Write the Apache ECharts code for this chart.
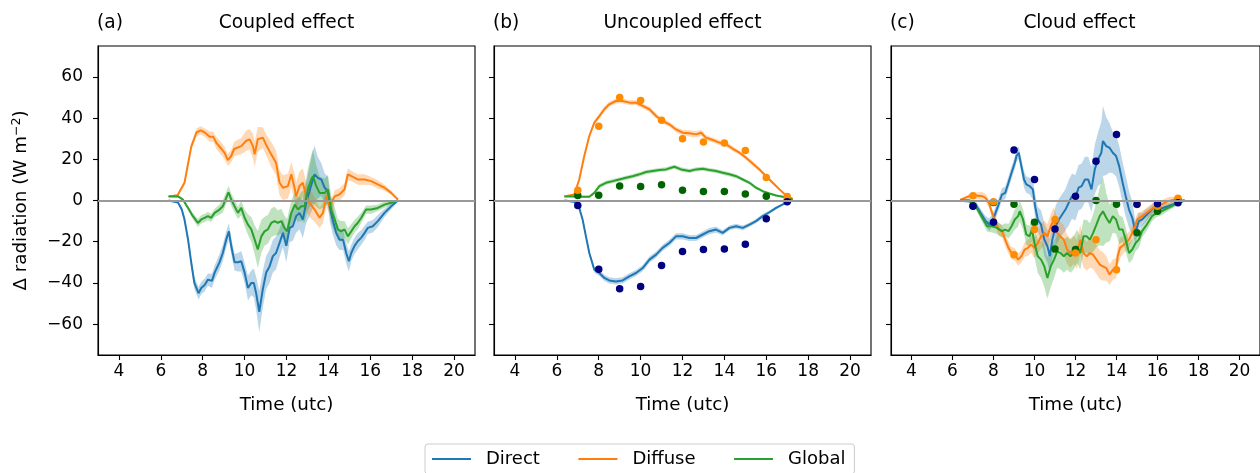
<!DOCTYPE html>
<html>
<head>
<meta charset="utf-8">
<script src="https://cdn.jsdelivr.net/npm/echarts@6/dist/echarts.min.js"></script>
<style>html,body{margin:0;padding:0;background:#fff}#c{width:1260px;height:473px}</style>
</head>
<body>
<div id="c"></div>
<script>
// ---------- DATA ([time, value, half-spread]) ----------
const panelTitles = ['Coupled effect', 'Uncoupled effect', 'Cloud effect'];
const panelTags = ['(a)', '(b)', '(c)'];
const seriesNames = ['Direct', 'Diffuse', 'Global'];
const xTicks = [4, 6, 8, 10, 12, 14, 16, 18, 20];
const yTicks = [-60, -40, -20, 0, 20, 40, 60];
const hours = [7, 8, 9, 10, 11, 12, 13, 14, 15, 16, 17];

const directA = [[6.37,0,0.3],[6.82,-1,0.5],[7.0,-4.4,1],[7.13,-9.2,1.5],[7.3,-19,2],[7.45,-30,2.5],[7.6,-40,3],[7.8,-45,3],[7.93,-42.5,3],[8.09,-41,3],[8.25,-38.4,3],[8.44,-39,3.5],[8.57,-35,3.5],[8.8,-30,4],[8.96,-25.5,4],[9.12,-19,4],[9.25,-15,4],[9.36,-22,4],[9.52,-30,4],[9.68,-30,4.5],[9.84,-29.5,5],[10.0,-35,5],[10.16,-42.5,6],[10.32,-40,6],[10.44,-40,7],[10.55,-45,8],[10.7,-54,10],[10.87,-43,9],[11.03,-35,8],[11.19,-32,8],[11.35,-27,8],[11.5,-25.5,8],[11.67,-20.6,7],[11.83,-15.7,7],[11.99,-22,8],[12.15,-13.3,7],[12.3,-12.5,7],[12.46,-7.6,8],[12.62,-6,8],[12.78,-9.2,9],[12.94,-1.1,10],[13.1,4.5,12],[13.26,10.2,14],[13.34,12.7,14],[13.5,11,10],[13.66,10.2,8],[13.82,6.2,7],[13.98,4.5,7],[14.06,-2.8,7],[14.2,-9.2,7],[14.37,-15.7,6],[14.53,-19,5],[14.7,-19,5],[14.85,-25.5,5],[14.98,-29.5,5],[15.09,-25.5,4],[15.25,-22,4],[15.4,-19.8,4],[15.57,-18,3.5],[15.73,-15.7,3.5],[15.88,-13.3,3],[16.12,-12.5,3],[16.36,-10,3],[16.68,-6,2],[17.0,-2.8,1.5],[17.32,0,0.5]];
const diffuseA = [[6.37,2,0.3],[6.8,2.5,0.5],[7.13,8.6,1],[7.45,26,1.5],[7.7,33,2],[7.9,34,2],[8.1,33,2],[8.33,31,2.5],[8.5,31,2.5],[8.65,28,3],[8.9,25,3],[9.05,23,3],[9.2,19.6,3],[9.36,21.6,3],[9.5,25,3.5],[9.84,26.4,4],[10.08,29,5],[10.24,29.7,5],[10.4,26.4,6],[10.48,22.4,6],[10.63,29.7,6],[10.87,30.5,5],[11.03,27,5],[11.27,22.4,6],[11.5,18.3,6],[11.67,8.6,6],[11.83,6.2,6],[12.07,7,6],[12.23,12.7,6],[12.4,5.4,7],[12.46,2,7],[12.62,7,7],[12.78,8.6,7],[12.94,2,7],[13.1,-1.1,7],[13.34,-4.4,6],[13.58,-8.4,5],[13.74,-6,5],[13.9,2,5],[14.06,-2.8,4],[14.13,-3.6,4],[14.3,2,3],[14.53,2.9,3],[14.77,5.4,3],[14.93,12.7,3],[15.1,11.8,2.5],[15.4,10.2,2.5],[15.73,10.2,2.5],[16.04,9.4,2],[16.36,7.8,2],[16.68,6.2,1.5],[17.0,3.7,1],[17.32,0.5,0.5]];
const globalA = [[6.37,2,0.3],[6.82,2,0.5],[7.05,0.5,0.8],[7.3,-3.6,1],[7.53,-7.6,1.5],[7.77,-10.9,2],[7.93,-9.2,2],[8.09,-8.4,2],[8.25,-7.6,2],[8.4,-8.4,2],[8.57,-6,2],[8.8,-4.4,2.5],[8.96,-2.8,3],[9.12,1.3,3],[9.23,4,3],[9.36,0.5,3],[9.52,-2.8,3],[9.68,-6,3],[9.84,-3.6,3.5],[10.0,-8.4,4],[10.16,-11.7,5],[10.32,-14,6],[10.48,-19,7],[10.63,-23.8,9],[10.8,-17.4,8],[10.95,-15,7],[11.11,-14,7],[11.27,-10.9,7],[11.43,-10,7],[11.59,-10.9,6],[11.75,-10,6],[11.9,-13.3,6],[12.03,-15,6],[12.23,-6,6],[12.4,-2,6],[12.55,-4.4,6],[12.7,-2.8,7],[12.86,-2.8,8],[13.02,5.4,10],[13.18,10.2,12],[13.26,11.8,13],[13.42,7,10],[13.58,3.7,8],[13.82,3.7,7],[13.98,5.4,7],[14.13,-4.4,7],[14.3,-9.2,6],[14.45,-14,5],[14.61,-15,5],[14.77,-14,4],[14.93,-17.4,4],[15.09,-15,3.5],[15.25,-12.5,3],[15.4,-10.9,3],[15.57,-8.4,2.5],[15.8,-4.4,2],[16.04,-4.4,2],[16.36,-3.6,1.5],[16.68,-2,1.5],[17.0,-1.1,1],[17.32,0,0.5]];

const directB = [[6.36,0,0.2],[6.83,-0.6,0.5],[7.07,-3.6,0.8],[7.23,-9.2,1],[7.39,-17.4,1.2],[7.55,-25.5,1.5],[7.79,-33.6,1.5],[8.03,-35.2,1.5],[8.27,-37.6,1.5],[8.5,-38.8,1.5],[8.82,-39.3,1.5],[9.14,-38.8,1.5],[9.46,-36.8,1.5],[9.78,-35.2,1.5],[10.1,-32.8,1.5],[10.42,-28.7,1.5],[10.74,-26.3,1.5],[11.05,-23,1.5],[11.37,-20.6,1.5],[11.69,-17.4,1.5],[12.01,-17.4,1.5],[12.33,-18.2,1.5],[12.65,-18.2,1.5],[12.97,-16.5,1.5],[13.28,-14.9,1.5],[13.6,-14.1,1.5],[13.92,-15.7,1.2],[14.24,-13.3,1.2],[14.56,-12.5,1.2],[14.88,-13.3,1.2],[15.2,-11.7,1],[15.51,-10,1],[15.83,-7.6,1],[16.15,-5.7,0.8],[16.47,-3.6,0.8],[16.79,-1.9,0.5],[17.26,0,0.3]];
const diffuseB = [[6.36,2,0.2],[6.83,2.9,0.5],[7.07,10.2,0.8],[7.31,21.6,1],[7.55,31.3,1],[7.79,37.8,1],[8.03,41,1.2],[8.27,44.3,1.2],[8.5,46.7,1.2],[8.82,48.3,1.2],[9.14,48.3,1.2],[9.46,47.5,1.2],[9.78,47.5,1.2],[10.1,45.9,1.2],[10.42,44.3,1.2],[10.74,41,1.2],[11.05,38.6,1.2],[11.37,37,1.2],[11.69,34.5,1.2],[12.01,32.9,1.5],[12.33,32.6,1.5],[12.65,32.1,1.5],[12.89,32.9,1.5],[13.12,30.5,1.2],[13.44,29.4,1.2],[13.76,28.1,1.2],[14.08,27.3,1.2],[14.4,25.1,1.2],[14.72,23.2,1],[15.03,20.8,1],[15.35,18,1],[15.67,15.1,1],[15.99,11.8,0.8],[16.31,8.6,0.8],[16.63,5.4,0.5],[16.95,2.4,0.5],[17.26,0.8,0.3]];
const globalB = [[6.36,2,0.2],[6.75,2,0.4],[7.15,1.8,0.5],[7.55,1.8,0.6],[7.79,3.7,0.8],[8.03,7,1],[8.35,8.6,1],[8.67,9.4,1],[8.98,10.2,1],[9.3,11,1],[9.62,11.8,1],[9.94,12.7,1],[10.26,13.8,1],[10.58,14.3,1],[10.9,14.8,1],[11.21,15.1,1],[11.61,16.4,1],[11.93,15.1,1],[12.33,14.3,1],[12.65,15.1,1],[12.97,15.4,1],[13.28,14.8,1],[13.6,14.3,1],[13.92,13.5,1],[14.24,12.7,1],[14.56,11.8,1],[14.88,10.2,0.8],[15.2,8.6,0.8],[15.51,6.2,0.8],[15.83,4.5,0.6],[16.15,3.4,0.5],[16.47,2.4,0.5],[16.79,1.8,0.4],[17.26,0.5,0.2]];

const directC = [[6.37,0,0.5],[6.82,-0.3,1],[7.13,-1.9,1.5],[7.37,-6,2],[7.61,-10,2.5],[7.8,-11.7,3],[8.01,-8.4,3],[8.25,-1.9,3],[8.41,2.9,3],[8.57,3.7,3],[8.73,8.6,3],[8.88,13.5,3],[9.04,18.3,3],[9.12,21.6,3],[9.23,23.2,3],[9.36,16.7,3.5],[9.49,10.2,4],[9.6,7.8,4],[9.76,7,4],[9.92,5.4,5],[10.03,-2.8,6],[10.16,-9.2,6],[10.32,-11.7,7],[10.48,-19,8],[10.63,-22.2,8],[10.75,-27,8],[10.87,-19,9],[11.03,-12.5,10],[11.19,-9.2,10],[11.35,-6.8,10],[11.51,-4.4,10],[11.67,-1.1,11],[11.83,2.1,11],[11.99,1.3,11],[12.15,6.2,11],[12.3,7,11],[12.46,10.2,11],[12.62,10.2,11],[12.78,5.4,11],[12.94,15.1,12],[13.1,20,13],[13.26,23.2,15],[13.34,28.9,17],[13.5,26.4,14],[13.66,25.6,12],[13.82,23.2,10],[13.98,21.6,10],[14.13,16.7,10],[14.3,8.6,10],[14.45,2.1,10],[14.61,-4.4,9],[14.77,-8.4,8],[14.93,-15.7,5],[15.09,-10,4],[15.25,-9.2,3],[15.4,-7.6,3],[15.57,-6,2.5],[15.8,-3.6,2.5],[16.04,-4.4,2],[16.28,-3.6,2],[16.52,-2.8,1.5],[16.76,-1.9,1.5],[17.0,-1.1,1],[17.32,0,0.5]];
const diffuseC = [[6.37,0.3,0.3],[6.82,2.1,1],[7.13,2.4,1.5],[7.45,2.1,2],[7.61,1.3,2],[7.77,-1.1,2],[7.93,-6,2],[8.09,-10,2.5],[8.25,-14.1,3],[8.41,-14.9,3],[8.57,-19,3],[8.73,-23,3],[8.88,-25.5,3],[9.04,-26.3,3],[9.2,-28.7,3],[9.36,-27.1,3],[9.52,-23.8,3.5],[9.68,-23,4],[9.84,-21.4,4],[10.0,-23,5],[10.16,-20.6,5],[10.32,-17.4,6],[10.48,-15.7,6],[10.63,-17.4,6],[10.79,-12.5,6],[10.95,-9.2,6],[11.11,-15.7,7],[11.27,-17.4,7],[11.43,-19,7],[11.59,-23.8,7],[11.75,-25.5,7],[11.91,-23.8,7],[12.07,-26.3,7],[12.23,-19,7],[12.39,-25.5,7],[12.55,-27.1,7],[12.7,-25.5,7],[12.86,-26.3,7],[13.02,-28.7,7],[13.18,-31.1,7],[13.34,-32,7],[13.5,-32.8,6],[13.66,-36,5],[13.82,-33.6,5],[13.98,-32.8,5],[14.06,-27.1,5],[14.17,-23,5],[14.37,-21.4,4],[14.61,-19,4],[14.85,-14.1,3],[15.01,-9.2,3],[15.25,-7.6,2.5],[15.57,-5.2,2.5],[15.89,-2.8,2],[16.2,-1.9,2],[16.52,-0.3,2],[16.84,0.5,1.5],[17.32,0,0.5]];
const globalC = [[6.37,0,0.3],[6.82,0,1],[7.13,-2.8,1.5],[7.45,-8.4,2],[7.69,-12.5,2.5],[7.93,-12.5,3],[8.17,-13.3,3],[8.41,-14.9,3],[8.57,-14.1,3],[8.73,-14.9,3.5],[8.88,-12.5,4],[9.04,-9.2,5],[9.2,-7.6,5],[9.28,-5.2,5],[9.44,-9.2,5],[9.6,-16.5,5],[9.76,-17.4,5],[9.87,-14.1,6],[10.0,-20.6,7],[10.16,-27.1,8],[10.32,-28.7,9],[10.48,-32,10],[10.63,-37.6,10],[10.79,-32,10],[10.95,-28.7,9],[11.11,-24.7,8],[11.27,-25.5,8],[11.43,-27.1,8],[11.59,-25.5,8],[11.75,-27.1,8],[11.91,-25.5,8],[12.07,-22.2,8],[12.23,-25.5,8],[12.39,-17.4,8],[12.55,-17.4,8],[12.7,-19,8],[12.86,-15.7,9],[13.02,-11.7,11],[13.18,-7.6,14],[13.34,-5.2,17],[13.5,-8.4,12],[13.66,-10.9,9],[13.82,-7.6,8],[13.98,-9.2,7],[14.13,-14.1,7],[14.3,-14.1,6],[14.45,-19,6],[14.61,-25.5,5],[14.77,-23.8,5],[14.93,-20.6,4],[15.09,-19,4],[15.25,-14.9,3],[15.48,-11.7,3],[15.73,-7.6,2.5],[15.96,-6,2],[16.2,-5.2,2],[16.52,-3.6,1.5],[16.84,-1.9,1],[17.32,0,0.5]];

// hourly point values
const directDotsB = [-2.4,-33.4,-42.8,-41.7,-31.5,-24.8,-23.8,-23.5,-21.2,-8.9,-0.6];
const diffuseDotsB = [5,36,50,48.5,39,30,28.4,27.9,24.3,11.2,2];
const globalDotsB = [2.4,2.6,7,6.8,7.6,5,4.4,4.4,3.1,2.1,0];
const directDotsC = [-2.8,-10.5,24.5,10.2,-13.8,2.1,19,32,-1.8,-1.6,-1.1];
const diffuseDotsC = [2.3,-0.6,-26.3,-14.1,-9.2,-25.5,-19,-33.6,-2,-2.8,1.1];
const globalDotsC = [-2.5,-1,-1.8,-10.5,-23.5,-23.8,0,-1.8,-15.7,-5.2,0.3];

// ---------- STYLE ----------
const FONT = 'DejaVu Sans';
const FS_TICK = 17;
const FS_LAB = 18.3;
const FS_TITLE = 18.6;
const FS_LEG = 18;
const lineColors = ['#1f77b4', '#ff7f0e', '#2ca02c'];
const dotColors = ['#000080', '#ff8c00', '#006400'];
const panelLines = [[directA, diffuseA, globalA], [directB, diffuseB, globalB], [directC, diffuseC, globalC]];
const panelDots = [null, [directDotsB, diffuseDotsB, globalDotsB], [directDotsC, diffuseDotsC, globalDotsC]];
const gridPos = [{left: 98, width: 377}, {left: 494, width: 377}, {left: 891, width: 377}];
const GTOP = 46, GH = 309;

const fmtY = v => (v < 0 ? '\u2212' + (-v) : String(v));

const grids = [], xAxes = [], yAxes = [], series = [], graphics = [];
gridPos.forEach((g, p) => {
  grids.push({left: g.left, top: GTOP, width: g.width, height: GH, show: true,
    borderColor: '#000', borderWidth: 1.1, backgroundColor: 'transparent'});
  xAxes.push({type: 'value', gridIndex: p, min: 3, max: 21,
    name: 'Time (utc)', nameLocation: 'middle', nameGap: 41,
    nameTextStyle: {fontFamily: FONT, fontSize: FS_LAB, color: '#000'},
    axisLine: {show: true, onZero: false, lineStyle: {color: '#000', width: 1.1}},
    axisTick: {show: true, inside: false, length: 5, customValues: xTicks, lineStyle: {color: '#000', width: 1.1}},
    axisLabel: {show: true, customValues: xTicks, margin: 8, fontFamily: FONT, fontSize: FS_TICK, color: '#000'},
    splitLine: {show: false}});
  yAxes.push({type: 'value', gridIndex: p, min: -75, max: 75,
    name: p === 0 ? '\u0394 radiation (W m{sup|\u22122})' : '',
    nameLocation: 'middle', nameGap: 66, nameRotate: 90,
    nameTextStyle: {fontFamily: FONT, fontSize: FS_LAB, color: '#000',
      rich: {sup: {fontFamily: FONT, fontSize: 12.5, color: '#000', verticalAlign: 'top', padding: [0, 0, 9, 0]}}},
    axisLine: {show: true, onZero: false, lineStyle: {color: '#000', width: 1.1}},
    axisTick: {show: true, inside: false, length: 5, customValues: yTicks, lineStyle: {color: '#000', width: 1.1}},
    axisLabel: {show: p === 0, customValues: yTicks, margin: 15, formatter: fmtY, fontFamily: FONT, fontSize: FS_TICK, color: '#000'},
    splitLine: {show: false}});

  // bands
  panelLines[p].forEach((arr, k) => {
    series.push({type: 'custom', xAxisIndex: p, yAxisIndex: p, silent: true, z: 1,
      data: [[arr[0][0], arr[0][1]]],
      renderItem: (params, api) => {
        const up = arr.map(d => api.coord([d[0], d[1] + d[2]]));
        const lo = arr.slice().reverse().map(d => api.coord([d[0], d[1] - d[2]]));
        return {type: 'polygon', shape: {points: up.concat(lo)}, style: {fill: lineColors[k], opacity: 0.3}};
      }});
  });
  // zero line
  series.push({type: 'line', xAxisIndex: p, yAxisIndex: p, data: [], silent: true, z: 2,
    markLine: {silent: true, symbol: 'none', label: {show: false}, animation: false,
      lineStyle: {color: '#999999', width: 2, type: 'solid'}, data: [{yAxis: 0}]}});
  // lines
  panelLines[p].forEach((arr, k) => {
    series.push({type: 'line', name: seriesNames[k], xAxisIndex: p, yAxisIndex: p, z: 3,
      data: arr.map(d => [d[0], d[1]]), showSymbol: false, symbol: 'none',
      lineStyle: {color: lineColors[k], width: 2}, itemStyle: {color: lineColors[k]}});
  });
  // dots (global, diffuse, direct on top)
  if (panelDots[p]) {
    [2, 1, 0].forEach(k => {
      series.push({type: 'scatter', name: seriesNames[k] + ' obs', xAxisIndex: p, yAxisIndex: p, z: 4,
        symbolSize: 7.5, itemStyle: {color: dotColors[k], opacity: 1},
        data: hours.map((h, i) => [h, panelDots[p][k][i]])});
    });
  }
  // titles
  graphics.push({type: 'text', x: g.left - 1, y: 23,
    style: {text: panelTags[p], font: FS_TITLE + 'px "' + FONT + '"', fill: '#000', textAlign: 'left', textVerticalAlign: 'middle'}});
  graphics.push({type: 'text', x: g.left + g.width / 2, y: 23,
    style: {text: panelTitles[p], font: FS_TITLE + 'px "' + FONT + '"', fill: '#000', textAlign: 'center', textVerticalAlign: 'middle'}});
});

const chart = echarts.init(document.getElementById('c'), null, {renderer: 'canvas'});
chart.setOption({
  animation: false,
  backgroundColor: '#fff',
  textStyle: {fontFamily: FONT},
  grid: grids, xAxis: xAxes, yAxis: yAxes, series: series,
  graphic: graphics,
  legend: {
    data: seriesNames.map(n => ({name: n, icon: 'rect'})),
    left: 425, top: 444, orient: 'horizontal',
    itemWidth: 39, itemHeight: 2, itemGap: 38.5,
    padding: [6, 9, 6, 7],
    borderColor: '#cccccc', borderWidth: 1, borderRadius: 3,
    textStyle: {fontFamily: FONT, fontSize: FS_LEG, color: '#000', padding: [0, 0, 0, 10]}
  }
});
</script>
</body>
</html>
